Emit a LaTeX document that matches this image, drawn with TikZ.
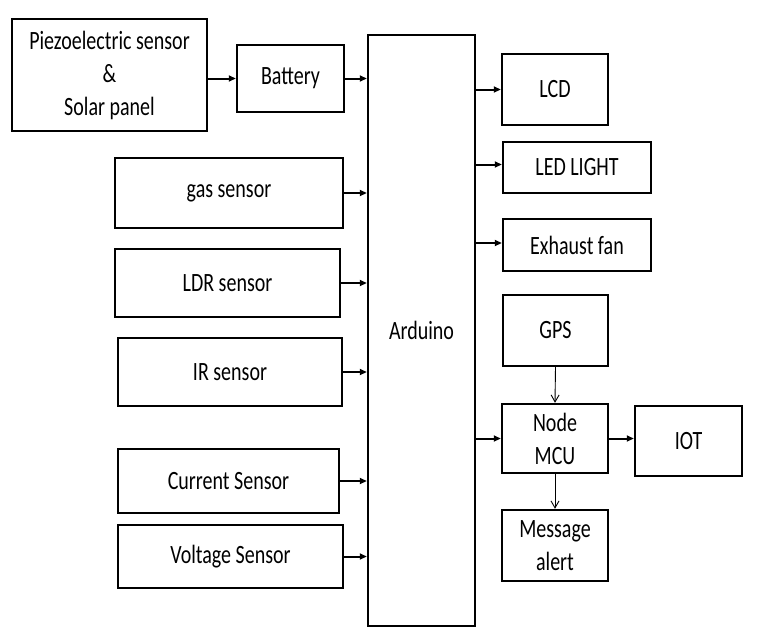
\documentclass[tikz,border=0pt]{standalone}
\usepackage{fontspec}
\setmainfont{Carlito}
\usetikzlibrary{arrows.meta}
\newcommand{\st}[1]{\scalebox{1}[1.32]{#1}}
\begin{document}
\begin{tikzpicture}[x=1pt,y=-1pt,
  box/.style={draw=black, line width=2.4pt, inner sep=0pt, align=center,
    font=\fontsize{20}{33}\selectfont},
  thick arrow/.style={line width=2pt, -{Triangle[length=7pt,width=6pt]}},
  thin arrow/.style={line width=0.9pt, -{Straight Barb[length=7pt,width=8pt]}}]
\useasboundingbox (0,0) rectangle (758,643);

\node[box, minimum width=195pt, minimum height=112pt] (piezo) at (109.5,75)
  {\st{Piezoelectric sensor}\\\st{\&}\\\st{Solar panel}};
\node[box, minimum width=107pt, minimum height=67pt] (bat) at (290.5,78.5) {\st{Battery}};
\node[box, minimum width=107pt, minimum height=591pt] (ard) at (421.5,330.5) {\st{Arduino}};

\node[box, minimum width=228pt, minimum height=70pt] (gas) at (229,193) {\st{gas sensor}};
\node[box, minimum width=225pt, minimum height=68pt] (ldr) at (227.5,283) {\st{LDR sensor}};
\node[box, minimum width=224pt, minimum height=68pt] (ir) at (230,372) {\st{IR sensor}};
\node[box, minimum width=221pt, minimum height=64pt] (cur) at (228.5,481) {\st{Current Sensor}};
\node[box, minimum width=225pt, minimum height=63pt] (volt) at (230.5,556.5) {\st{Voltage Sensor}};

\node[box, minimum width=106pt, minimum height=71pt] (lcd) at (555,89.5) {\st{LCD}};
\node[box, minimum width=148pt, minimum height=51pt] (led) at (577,167.5) {\st{LED LIGHT}};
\node[box, minimum width=148pt, minimum height=52pt] (fan) at (577,245) {\st{Exhaust fan}};
\node[box, minimum width=105pt, minimum height=71pt] (gps) at (555.5,330.5) {\st{GPS}};
\node[box, minimum width=106pt, minimum height=69pt] (node) at (555,438.5) {\st{Node}\\\st{MCU}};
\node[box, minimum width=107pt, minimum height=70pt] (iot) at (688.5,441) {\st{IOT}};
\node[box, minimum width=106pt, minimum height=71pt] (msg) at (555,545.5) {\st{Message}\\\st{alert}};

\draw[thick arrow] (piezo.east |- bat.west) -- (bat.west);
\draw[thick arrow] (bat.east) -- (bat.east -| ard.west);
\foreach \n in {gas,ldr,ir,cur,volt}
  \draw[thick arrow] (\n.east) -- (\n.east -| ard.west);
\draw[thick arrow] (ard.east |- lcd.west) -- (lcd.west);
\draw[thick arrow] ([yshift=3pt]ard.east |- led.west) -- ([yshift=3pt]led.west);
\draw[thick arrow] ([yshift=2pt]ard.east |- fan.west) -- ([yshift=2pt]fan.west);
\draw[thick arrow] (ard.east |- node.west) -- (node.west);
\draw[thick arrow] (node.east) -- (node.east -| iot.west);
\draw[thin arrow] (gps.south) -- (node.north);
\draw[thin arrow] (node.south) -- (msg.north);
\end{tikzpicture}
\end{document}
